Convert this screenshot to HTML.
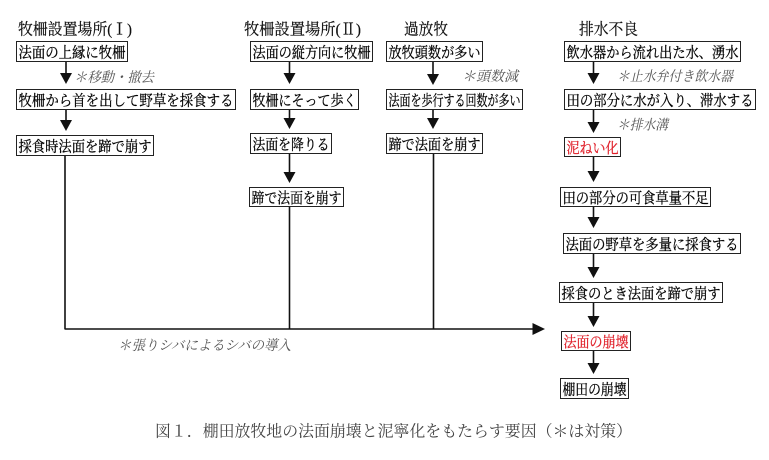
<!DOCTYPE html>
<html>
<head>
<meta charset="utf-8">
<style>
  html,body{margin:0;padding:0;background:#fff;}
  svg{display:block;}
  text{font-family:"Liberation Serif","Noto Serif CJK SC","Noto Serif CJK JP",serif;}
  .bt{font-size:15px;fill:#000;stroke:#000;stroke-width:0.25;}
  .red{fill:#e0202a;stroke:#e0202a;}
  .hd{font-size:16px;fill:#111;stroke:#111;stroke-width:0.2;}
  .an{font-size:14px;fill:#555;font-style:italic;}
  .cap{font-size:16px;fill:#444;}
  rect.b{fill:#fff;stroke:#222;stroke-width:1;}
  line.s{stroke:#111;stroke-width:1.6;}
  polygon.h{fill:#111;}
</style>
</head>
<body>
<svg width="769" height="460" viewBox="0 0 769 460" xmlns="http://www.w3.org/2000/svg">
  <rect x="0" y="0" width="769" height="460" fill="#fff"/>

  <!-- Headers -->
  <text class="hd" x="18" y="34.5" textLength="114" lengthAdjust="spacingAndGlyphs">牧柵設置場所(Ⅰ)</text>
  <text class="hd" x="244" y="34.5" textLength="117" lengthAdjust="spacingAndGlyphs">牧柵設置場所(Ⅱ)</text>
  <text class="hd" x="404" y="34.5" textLength="44" lengthAdjust="spacingAndGlyphs">過放牧</text>
  <text class="hd" x="579" y="34.5" textLength="59" lengthAdjust="spacingAndGlyphs">排水不良</text>

  <!-- Connectors column 1 -->
  <line class="s" x1="66" y1="62" x2="66" y2="75"/>
  <polygon class="h" points="66,84 60,73 72,73"/>
  <line class="s" x1="66" y1="109" x2="66" y2="122"/>
  <polygon class="h" points="66,131 60,120 72,120"/>
  <line class="s" x1="65" y1="155" x2="65" y2="329"/>

  <!-- Connectors column 2 -->
  <line class="s" x1="289.5" y1="62" x2="289.5" y2="75"/>
  <polygon class="h" points="289.5,84 283.5,73 295.5,73"/>
  <line class="s" x1="289.5" y1="109" x2="289.5" y2="120"/>
  <polygon class="h" points="289.5,129 283.5,118 295.5,118"/>
  <line class="s" x1="289.5" y1="154" x2="289.5" y2="174"/>
  <polygon class="h" points="289.5,183 283.5,172 295.5,172"/>
  <line class="s" x1="289.5" y1="207" x2="289.5" y2="329"/>

  <!-- Connectors column 3 -->
  <line class="s" x1="433" y1="62" x2="433" y2="76"/>
  <polygon class="h" points="433,85 427,74 439,74"/>
  <line class="s" x1="433" y1="109" x2="433" y2="120"/>
  <polygon class="h" points="433,129 427,118 439,118"/>
  <line class="s" x1="433.5" y1="154" x2="433.5" y2="329"/>

  <!-- Connectors column 4 -->
  <line class="s" x1="593.5" y1="62" x2="593.5" y2="75"/>
  <polygon class="h" points="593.5,84 587.5,73 599.5,73"/>
  <line class="s" x1="593.5" y1="109" x2="593.5" y2="124"/>
  <polygon class="h" points="593.5,133 587.5,122 599.5,122"/>
  <line class="s" x1="593.5" y1="157" x2="593.5" y2="173"/>
  <polygon class="h" points="593.5,182 587.5,171 599.5,171"/>
  <line class="s" x1="593.5" y1="207" x2="593.5" y2="219"/>
  <polygon class="h" points="593.5,228 587.5,217 599.5,217"/>
  <line class="s" x1="593.5" y1="253" x2="593.5" y2="269"/>
  <polygon class="h" points="593.5,278 587.5,267 599.5,267"/>
  <line class="s" x1="593.5" y1="303" x2="593.5" y2="318"/>
  <polygon class="h" points="593.5,327 587.5,316 599.5,316"/>
  <line class="s" x1="593.5" y1="351" x2="593.5" y2="365"/>
  <polygon class="h" points="593.5,374 587.5,363 599.5,363"/>

  <!-- Horizontal merge line -->
  <line class="s" x1="64.5" y1="329" x2="534" y2="329"/>
  <polygon class="h" points="545,329 532.5,323 532.5,335"/>

  <!-- Boxes column 1 -->
  <rect class="b" x="16.5" y="41.5" width="111" height="20"/>
  <text class="bt" x="18.5" y="57.3" textLength="107" lengthAdjust="spacingAndGlyphs">法面の上縁に牧柵</text>
  <rect class="b" x="16.5" y="89.5" width="219" height="20"/>
  <text class="bt" x="18.5" y="105.3" textLength="215" lengthAdjust="spacingAndGlyphs">牧柵から首を出して野草を採食する</text>
  <rect class="b" x="16.5" y="135.5" width="137" height="20"/>
  <text class="bt" x="18.5" y="151.3" textLength="133" lengthAdjust="spacingAndGlyphs">採食時法面を蹄で崩す</text>

  <!-- Boxes column 2 -->
  <rect class="b" x="250.5" y="41.5" width="122" height="20"/>
  <text class="bt" x="252.5" y="57.3" textLength="118" lengthAdjust="spacingAndGlyphs">法面の縦方向に牧柵</text>
  <rect class="b" x="250.5" y="89.5" width="108" height="20"/>
  <text class="bt" x="252.5" y="105.3" textLength="104" lengthAdjust="spacingAndGlyphs">牧柵にそって歩く</text>
  <rect class="b" x="250.5" y="133.5" width="81" height="20"/>
  <text class="bt" x="252.5" y="149.3" textLength="77" lengthAdjust="spacingAndGlyphs">法面を降りる</text>
  <rect class="b" x="249.5" y="187.5" width="94" height="19"/>
  <text class="bt" x="251.5" y="202.8" textLength="90" lengthAdjust="spacingAndGlyphs">蹄で法面を崩す</text>

  <!-- Boxes column 3 -->
  <rect class="b" x="386.5" y="41.5" width="96" height="20"/>
  <text class="bt" x="388.5" y="57.3" textLength="92" lengthAdjust="spacingAndGlyphs">放牧頭数が多い</text>
  <rect class="b" x="386.5" y="89.5" width="136" height="20"/>
  <text class="bt" x="388.5" y="105.3" textLength="132" lengthAdjust="spacingAndGlyphs">法面を歩行する回数が多い</text>
  <rect class="b" x="386.5" y="133.5" width="96" height="20"/>
  <text class="bt" x="388.5" y="149.3" textLength="92" lengthAdjust="spacingAndGlyphs">蹄で法面を崩す</text>

  <!-- Boxes column 4 -->
  <rect class="b" x="564.5" y="41.5" width="176" height="20"/>
  <text class="bt" x="566.5" y="57.3" textLength="172" lengthAdjust="spacingAndGlyphs">飲水器から流れ出た水、湧水</text>
  <rect class="b" x="564.5" y="89.5" width="191" height="20"/>
  <text class="bt" x="566.5" y="105.3" textLength="187" lengthAdjust="spacingAndGlyphs">田の部分に水が入り、滞水する</text>
  <rect class="b" x="564.5" y="137.5" width="56" height="19"/>
  <text class="bt red" x="566.5" y="152.8" textLength="52" lengthAdjust="spacingAndGlyphs">泥ねい化</text>
  <rect class="b" x="560.5" y="187.5" width="150" height="19"/>
  <text class="bt" x="562.5" y="202.8" textLength="146" lengthAdjust="spacingAndGlyphs">田の部分の可食草量不足</text>
  <rect class="b" x="563.5" y="233.5" width="177" height="20"/>
  <text class="bt" x="565.5" y="249.3" textLength="173" lengthAdjust="spacingAndGlyphs">法面の野草を多量に採食する</text>
  <rect class="b" x="559.5" y="282.5" width="163" height="20"/>
  <text class="bt" x="561.5" y="298.3" textLength="159" lengthAdjust="spacingAndGlyphs">採食のとき法面を蹄で崩す</text>
  <rect class="b" x="561.5" y="331.5" width="69" height="19"/>
  <text class="bt red" x="563.5" y="346.8" textLength="65" lengthAdjust="spacingAndGlyphs">法面の崩壊</text>
  <rect class="b" x="560.5" y="378.5" width="68" height="20"/>
  <text class="bt" x="562.5" y="394.3" textLength="64" lengthAdjust="spacingAndGlyphs">棚田の崩壊</text>

  <!-- Annotations -->
  <text class="an" x="74" y="82" textLength="80" lengthAdjust="spacingAndGlyphs">＊移動・撤去</text>
  <text class="an" x="462" y="81" textLength="56" lengthAdjust="spacingAndGlyphs">＊頭数減</text>
  <text class="an" x="617" y="81" textLength="116" lengthAdjust="spacingAndGlyphs">＊止水弁付き飲水器</text>
  <text class="an" x="617" y="129.5" textLength="51" lengthAdjust="spacingAndGlyphs">＊排水溝</text>
  <text class="an" x="118" y="350" textLength="173" lengthAdjust="spacingAndGlyphs">＊張りシバによるシバの導入</text>

  <!-- Caption -->
  <text class="cap" x="155" y="436.5" textLength="477" lengthAdjust="spacingAndGlyphs">図１．棚田放牧地の法面崩壊と泥寧化をもたらす要因（＊は対策）</text>
</svg>
</body>
</html>
